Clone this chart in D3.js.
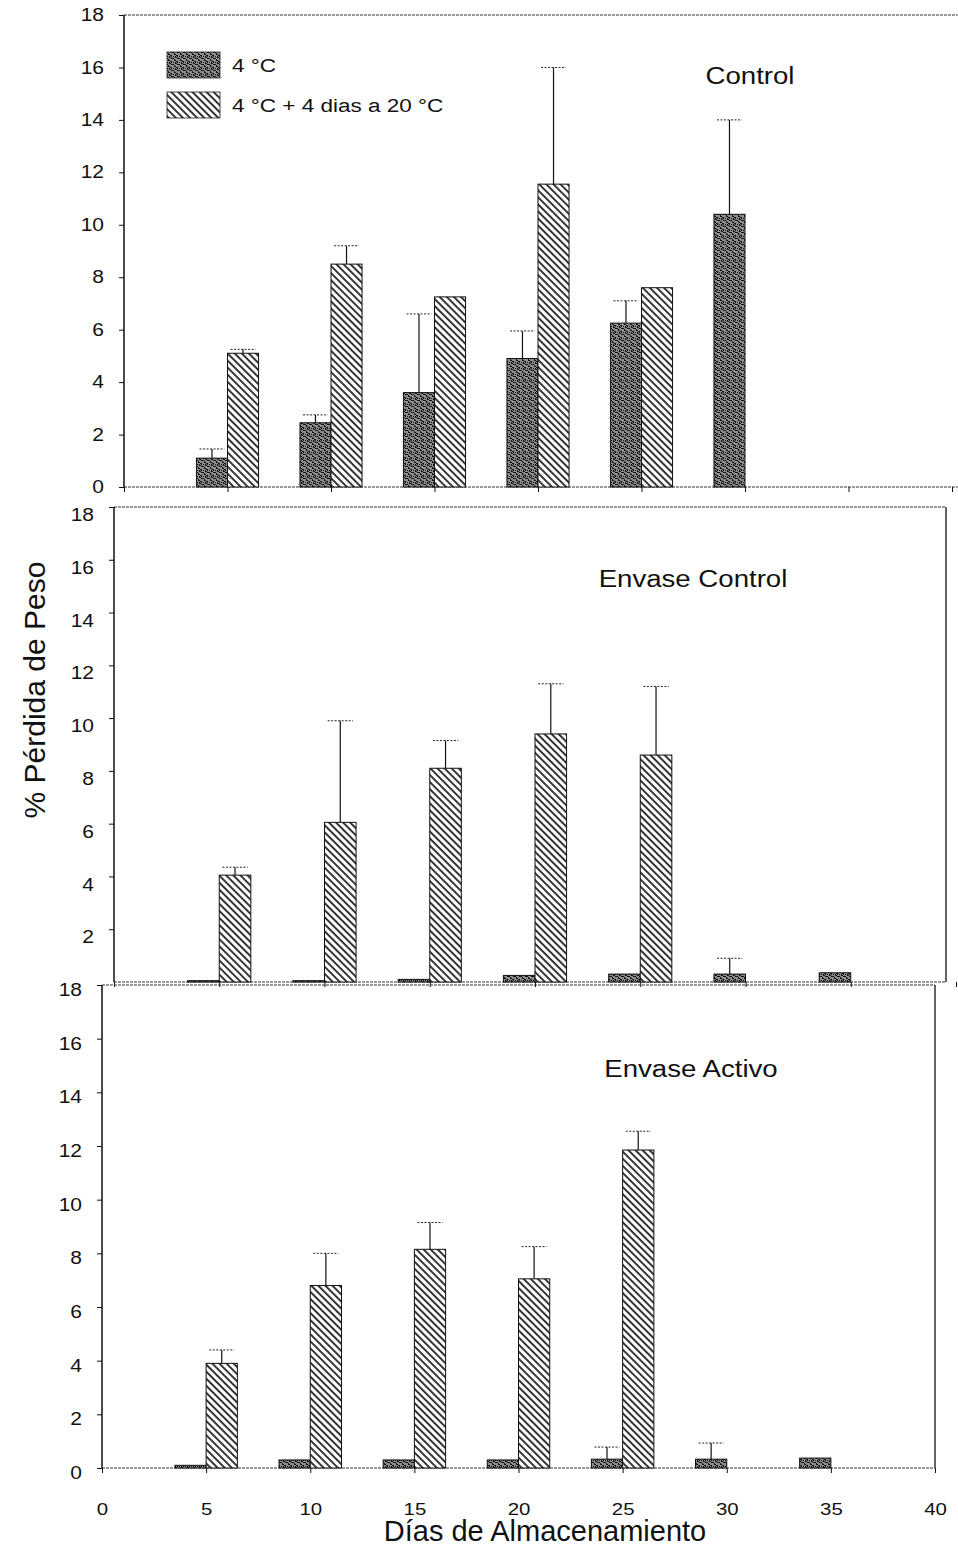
<!DOCTYPE html>
<html>
<head>
<meta charset="utf-8">
<script src="https://cdn.jsdelivr.net/npm/d3@7"></script>
<style>
  body { margin: 0; background: #fff; }
  svg { display: block; }
  text { font-family: "Liberation Sans", Arial, Helvetica, sans-serif; fill: #111; }
</style>
</head>
<body>
<svg id="chart" width="958" height="1547"></svg>
<script>
// Storage days (x) and the two storage treatments
const days = [5, 10, 15, 20, 25, 30, 35];
const seriesNames = ["4 \u00B0C", "4 \u00B0C + 4 dias a 20 \u00B0C"];
const panelTitles = ["Control", "Envase Control", "Envase Activo"];
const xTicks = [0, 5, 10, 15, 20, 25, 30, 35, 40];
const yTicksFull = [0, 2, 4, 6, 8, 10, 12, 14, 16, 18];
const yTicksNoZero = [2, 4, 6, 8, 10, 12, 14, 16, 18];

// % weight loss, Control
const controlCold = [1.1, 2.45, 3.6, 4.9, 6.25, 10.4, null];
const controlColdErr = [0.35, 0.3, 3.0, 1.05, 0.85, 3.6, null];
const controlWarm = [5.1, 8.5, 7.25, 11.55, 7.6, null, null];
const controlWarmErr = [0.15, 0.7, 0, 4.45, 0, null, null];

// % weight loss, Envase Control
const envControlCold = [0.05, 0.05, 0.1, 0.25, 0.3, 0.3, 0.35];
const envControlColdErr = [0, 0, 0, 0, 0, 0.6, 0];
const envControlWarm = [4.05, 6.05, 8.1, 9.4, 8.6, null, null];
const envControlWarmErr = [0.3, 3.85, 1.05, 1.9, 2.6, null, null];

// % weight loss, Envase Activo
const envActivoCold = [0.1, 0.3, 0.3, 0.3, 0.33, 0.33, 0.37];
const envActivoColdErr = [0, 0, 0, 0, 0.45, 0.6, 0];
const envActivoWarm = [3.9, 6.8, 8.15, 7.05, 11.85, null, null];
const envActivoWarmErr = [0.5, 1.2, 1.0, 1.2, 0.7, null, null];

const panelData = [
  { cold: controlCold, coldErr: controlColdErr, warm: controlWarm, warmErr: controlWarmErr, yTicks: yTicksFull },
  { cold: envControlCold, coldErr: envControlColdErr, warm: envControlWarm, warmErr: envControlWarmErr, yTicks: yTicksNoZero },
  { cold: envActivoCold, coldErr: envActivoColdErr, warm: envActivoWarm, warmErr: envActivoWarmErr, yTicks: yTicksFull }
];

// Panel geometry (pixel ranges for each stacked panel)
const layout = [
  { xr: [124, 952], yr: [487, 15], right: 975, title: [750, 84], showX: false, labelDy: 0 },
  { xr: [114, 956], yr: [982, 507], right: 946, title: [693, 587], showX: false, labelDy: 8 },
  { xr: [102, 935], yr: [1468, 985], right: 935, title: [691, 1077], showX: true, labelDy: 5 }
];

const barW = 1.5; // bar width in days
const svg = d3.select("#chart");

// Stretch text horizontally a little (wide lettering)
function widen(sel, k) {
  sel.each(function () {
    const L = this.getComputedTextLength();
    if (L > 0) {
      d3.select(this).attr("textLength", L * k).attr("lengthAdjust", "spacingAndGlyphs");
    }
  });
}

// Fill patterns
const defs = svg.append("defs");
const stip = defs.append("pattern")
  .attr("id", "stipple").attr("patternUnits", "userSpaceOnUse")
  .attr("width", 6).attr("height", 6);
stip.append("rect").attr("width", 6).attr("height", 6).attr("fill", "#8c8c8c");
[[0,0,2,1],[3,1,1,2],[1,3,2,1],[4,4,2,1],[0,5,1,1],[5,2,1,1],[2,1,1,1],[3,4,1,1],[1,2,1,1]].forEach(d => {
  stip.append("rect").attr("x", d[0]).attr("y", d[1]).attr("width", d[2]).attr("height", d[3]).attr("fill", "#141414");
});
const hatch = defs.append("pattern")
  .attr("id", "hatch").attr("patternUnits", "userSpaceOnUse")
  .attr("width", 5).attr("height", 5)
  .attr("patternTransform", "rotate(-45)");
hatch.append("rect").attr("width", 5).attr("height", 5).attr("fill", "#fff");
hatch.append("line").attr("x1", 1).attr("y1", 0).attr("x2", 1).attr("y2", 5)
  .attr("stroke", "#111").attr("stroke-width", 1.7);

layout.forEach((L, pi) => {
  const P = panelData[pi];
  const x = d3.scaleLinear().domain([0, 40]).range(L.xr);
  const y = d3.scaleLinear().domain([0, 18]).range(L.yr);
  const g = svg.append("g");

  // frame: top and right borders
  g.append("line").attr("x1", x(0)).attr("x2", L.right).attr("y1", y(18)).attr("y2", y(18))
    .attr("stroke", "#333").attr("stroke-width", 1).attr("stroke-dasharray", "3,1");
  g.append("line").attr("x1", L.right).attr("x2", L.right).attr("y1", y(18)).attr("y2", y(0))
    .attr("stroke", "#111").attr("stroke-width", 1.3);

  // x axis
  const xa = g.append("g").attr("transform", `translate(0,${y(0)})`)
    .call(d3.axisBottom(x).tickValues(xTicks).tickSize(5).tickPadding(30)
      .tickFormat(L.showX ? d3.format("d") : ""));
  xa.select(".domain").attr("stroke", "#333").attr("stroke-dasharray", "3,1")
    .attr("d", `M${x(0)},0H${L.right}`);
  xa.selectAll(".tick line").attr("stroke", "#111");
  xa.selectAll(".tick text").attr("font-size", 17).attr("fill", "#111");
  if (L.showX) widen(xa.selectAll(".tick text"), 1.2);

  // y axis
  const ya = g.append("g").attr("transform", `translate(${x(0)},0)`)
    .call(d3.axisLeft(y).tickValues(P.yTicks).tickSize(5).tickPadding(15).tickFormat(d3.format("d")));
  ya.select(".domain").attr("stroke", "#111").attr("stroke-width", 1.5)
    .attr("d", `M0,${y(0)}V${y(18)}`);
  ya.selectAll(".tick line").attr("stroke", "#111");
  ya.selectAll(".tick text").attr("font-size", 17.5).attr("fill", "#111")
    .attr("transform", `translate(0,${L.labelDy})`);
  widen(ya.selectAll(".tick text"), 1.2);

  // bars for both treatments
  const groups = [
    { vals: P.cold, errs: P.coldErr, fill: "url(#stipple)", off: -barW },
    { vals: P.warm, errs: P.warmErr, fill: "url(#hatch)", off: 0 }
  ];
  groups.forEach(s => {
    const rows = days.map((d, i) => ({ d, v: s.vals[i], e: s.errs[i] })).filter(r => r.v != null);
    g.append("g").selectAll("rect").data(rows).join("rect")
      .attr("x", r => x(r.d + s.off))
      .attr("width", x(barW) - x(0))
      .attr("y", r => y(r.v))
      .attr("height", r => y(0) - y(r.v))
      .attr("fill", s.fill)
      .attr("stroke", "#111").attr("stroke-width", 1);
    const eg = g.append("g").selectAll("g").data(rows.filter(r => r.e > 0)).join("g");
    eg.append("line")
      .attr("x1", r => x(r.d + s.off + barW / 2)).attr("x2", r => x(r.d + s.off + barW / 2))
      .attr("y1", r => y(r.v)).attr("y2", r => y(r.v + r.e))
      .attr("stroke", "#111").attr("stroke-width", 1.2);
    eg.append("line")
      .attr("x1", r => x(r.d + s.off + barW * 0.1)).attr("x2", r => x(r.d + s.off + barW * 0.9))
      .attr("y1", r => y(r.v + r.e)).attr("y2", r => y(r.v + r.e))
      .attr("stroke", "#222").attr("stroke-width", 1).attr("stroke-dasharray", "2,1.5");
  });

  // panel title
  const t = g.append("text").attr("x", L.title[0]).attr("y", L.title[1])
    .attr("text-anchor", "middle").attr("font-size", 23).text(panelTitles[pi]);
  widen(t, 1.2);
});

// legend (top panel)
const legend = svg.append("g");
const legendFills = ["url(#stipple)", "url(#hatch)"];
const legendY = [52, 92];
seriesNames.forEach((name, i) => {
  legend.append("rect").attr("x", 167).attr("y", legendY[i]).attr("width", 53).attr("height", 26)
    .attr("fill", legendFills[i]).attr("stroke", "#222").attr("stroke-width", 0.8);
  const lt = legend.append("text").attr("x", 232).attr("y", legendY[i] + 20)
    .attr("font-size", 18).text(name);
  widen(lt, 1.25);
});

// axis titles
svg.append("text").attr("x", 545).attr("y", 1541).attr("text-anchor", "middle")
  .attr("font-size", 29).text("D\u00EDas de Almacenamiento");
svg.append("text").attr("transform", "translate(45,690) rotate(-90)")
  .attr("text-anchor", "middle").attr("font-size", 30).text("% P\u00E9rdida de Peso");
</script>
</body>
</html>
